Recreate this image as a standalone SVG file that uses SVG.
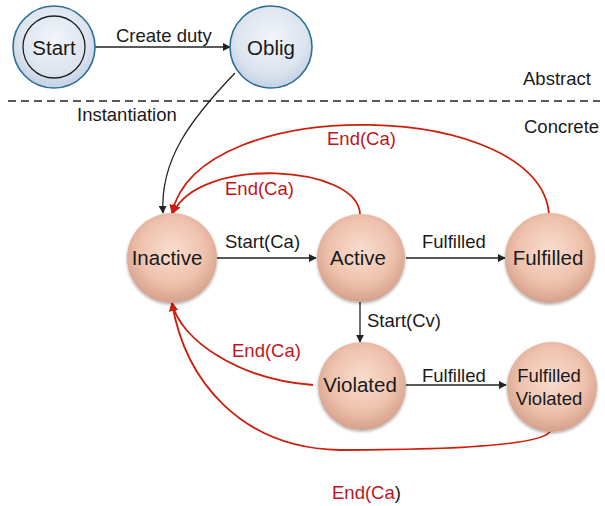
<svg xmlns="http://www.w3.org/2000/svg" width="605" height="506" viewBox="0 0 605 506">
<style>
text{font-family:"Liberation Sans",Arial,sans-serif;fill:#1a1a1a}
.nl{font-size:20.5px;text-anchor:middle}
.el{font-size:18.5px}
.red{fill:#c0141c}
.blk{fill:none;stroke:#222;stroke-width:1.3}
.rd{fill:none;stroke:#cc1e0a;stroke-width:1.8}
.peach{fill:url(#gp);filter:url(#sh)}
.blue{fill:url(#gb);stroke:#2a6f94;stroke-width:1.6}
</style>
<defs>
<radialGradient id="gp" cx="0.5" cy="0.42" r="0.6">
<stop offset="0" stop-color="#f9ddd0"/>
<stop offset="0.6" stop-color="#eec2ad"/>
<stop offset="1" stop-color="#d39d88"/>
</radialGradient>
<radialGradient id="gb" cx="0.5" cy="0.4" r="0.6">
<stop offset="0" stop-color="#f2f5fa"/>
<stop offset="0.7" stop-color="#dce4ef"/>
<stop offset="1" stop-color="#c3d1e4"/>
</radialGradient>
<filter id="sh" x="-20%" y="-20%" width="140%" height="140%">
<feDropShadow dx="0" dy="1.5" stdDeviation="1.8" flood-color="#000" flood-opacity="0.35"/>
</filter>
<marker id="ab" viewBox="0 0 10 10" refX="9" refY="5" markerWidth="8" markerHeight="8" markerUnits="userSpaceOnUse" orient="auto">
<path d="M0,0 L10,5 L0,10 z" fill="#222"/>
</marker>
<marker id="ar" viewBox="0 0 10 10" refX="9" refY="5" markerWidth="9" markerHeight="9" markerUnits="userSpaceOnUse" orient="auto">
<path d="M0,0 L10,5 L0,10 z" fill="#cc1e0a"/>
</marker>
</defs>

<line x1="8" y1="101" x2="600" y2="101" stroke="#222" stroke-width="1.5" stroke-dasharray="8,5"/>
<text class="el" x="523" y="85">Abstract</text>
<text class="el" x="524" y="133">Concrete</text>

<g id="connectors">
<line class="blk" x1="95" y1="47" x2="230" y2="47" marker-end="url(#ab)"/>
<path class="blk" d="M235 73 C190 120,160 160,163 213" marker-end="url(#ab)"/>
<line class="blk" x1="217" y1="258" x2="316" y2="258" marker-end="url(#ab)"/>
<line class="blk" x1="406" y1="258" x2="505" y2="258" marker-end="url(#ab)"/>
<line class="blk" x1="360" y1="302" x2="360" y2="342" marker-end="url(#ab)"/>
<line class="blk" x1="404" y1="385" x2="506" y2="385" marker-end="url(#ab)"/>
<path class="rd" d="M549 216 C545 100,200 90,172 213" marker-end="url(#ar)"/>
<path class="rd" d="M360 214 C358 165,200 155,173 213" marker-end="url(#ar)"/>
<path class="rd" d="M313 385 C240 380,180 340,172 303" marker-end="url(#ar)"/>
<path class="rd" d="M551 430 C545 448,420 450,340 450 C240 448,185 380,172 303" marker-end="url(#ar)"/>
<text class="el" x="116" y="42">Create duty</text>
<text class="el" x="77" y="121">Instantiation</text>
<text class="el" x="225" y="248">Start(Ca)</text>
<text class="el" x="422" y="248">Fulfilled</text>
<text class="el" x="367" y="327">Start(Cv)</text>
<text class="el" x="422" y="382">Fulfilled</text>
<text class="el red" x="327" y="145">End(Ca)</text>
<text class="el red" x="225" y="195">End(Ca)</text>
<text class="el red" x="232" y="357">End(Ca)</text>
<text class="el" x="332" y="499"><tspan class="red">End(Ca</tspan>)</text>
</g>

<g id="start">
<circle class="blue" cx="54" cy="47" r="41"/>
<circle cx="54" cy="47" r="31" fill="none" stroke="#222" stroke-width="1.3"/>
<text class="nl" x="54" y="55">Start</text>
</g>
<g id="oblig">
<circle class="blue" cx="271" cy="47" r="41"/>
<text class="nl" x="271" y="55">Oblig</text>
</g>
<g id="inactive">
<circle class="peach" cx="172" cy="258" r="45"/>
<text class="nl" x="167" y="265">Inactive</text>
</g>
<g id="active">
<circle class="peach" cx="361" cy="258" r="44"/>
<text class="nl" x="358" y="265">Active</text>
</g>
<g id="fulfilled">
<circle class="peach" cx="550" cy="258" r="45"/>
<text class="nl" x="548" y="265">Fulfilled</text>
</g>
<g id="violated">
<circle class="peach" cx="362" cy="386" r="44"/>
<text class="nl" x="360" y="392">Violated</text>
</g>
<g id="fulfilled-violated">
<circle class="peach" cx="552" cy="387" r="45"/>
<text class="nl" x="549" y="382" style="font-size:18.5px">Fulfilled</text>
<text class="nl" x="549" y="405" style="font-size:18.5px">Violated</text>
</g>
</svg>
